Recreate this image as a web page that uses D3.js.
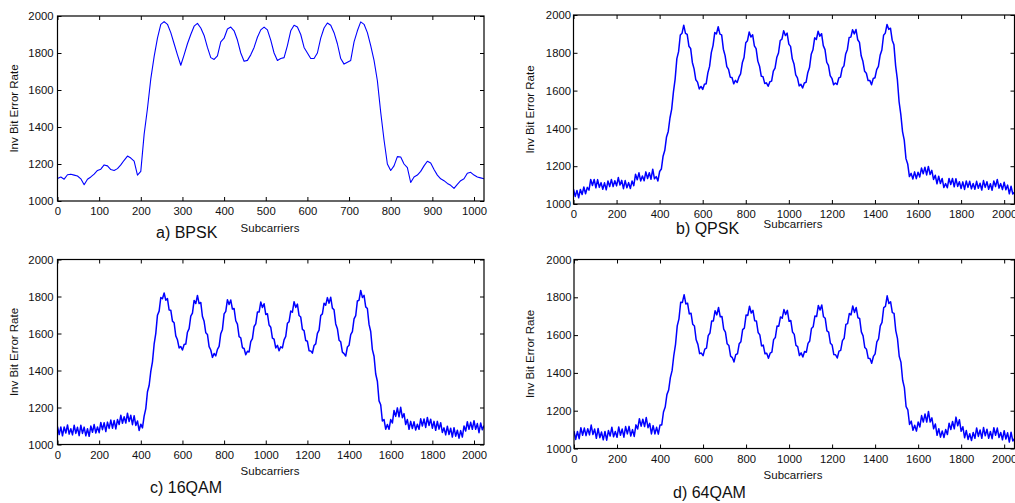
<!DOCTYPE html>
<html><head><meta charset="utf-8">
<script src="https://cdn.jsdelivr.net/npm/d3@7"></script>
<style>
body{margin:0;background:#fff}
svg{display:block;background:#fff}
text{font-family:"Liberation Sans",Arial,Helvetica,sans-serif;fill:#111}
</style>
</head><body><svg id="chart" width="1015" height="503"></svg>
<script>
// Subcarrier step between listed samples
const bpskStep = 8;
const qamStep = 8;

// a) BPSK — inverse bit error rate, sampled every 8 subcarriers (0..1024)
const bpsk = [1122,1130,1118,1142,1145,1140,1135,1120,1088,1118,1130,1145,1165,1172,1195,1190,
1170,1165,1175,1195,1220,1243,1232,1215,1140,1160,1360,1500,1660,1780,1880,1955,
1970,1955,1910,1850,1790,1734,1790,1850,1900,1945,1960,1935,1895,1830,1775,1765,
1785,1860,1880,1930,1940,1920,1870,1800,1755,1760,1790,1830,1885,1925,1940,1925,
1870,1800,1760,1770,1775,1840,1920,1950,1940,1900,1830,1800,1770,1770,1800,1880,
1935,1962,1950,1910,1850,1770,1740,1750,1760,1860,1920,1968,1955,1910,1840,1760,
1650,1480,1330,1200,1165,1190,1240,1238,1200,1180,1100,1130,1140,1160,1190,1215,
1205,1170,1140,1120,1110,1095,1085,1068,1090,1110,1120,1150,1155,1140,1130,1125,1120];

// b) QPSK — sampled every 8 subcarriers (0..2048)
const qpsk = [1078,1040,1072,1033,1077,1050,1090,1054,1088,1073,1130,1098,1130,1086,1129,1088,
1113,1078,1112,1075,1122,1092,1130,1092,1123,1096,1140,1100,1125,1081,1124,1086,
1113,1082,1122,1097,1157,1128,1165,1122,1148,1123,1170,1135,1165,1131,1184,1133,
1145,1122,1172,1185,1253,1284,1355,1384,1455,1502,1592,1661,1769,1806,1894,1903,
1946,1903,1897,1835,1823,1749,1715,1657,1645,1609,1622,1606,1634,1636,1694,1728,
1801,1838,1907,1900,1938,1899,1895,1819,1785,1727,1712,1671,1669,1636,1654,1643,
1671,1688,1747,1775,1853,1864,1910,1884,1895,1837,1822,1756,1729,1676,1674,1638,
1641,1623,1647,1650,1703,1719,1775,1799,1865,1872,1917,1891,1904,1846,1834,1768,
1741,1683,1667,1625,1633,1614,1640,1644,1695,1722,1792,1816,1879,1871,1914,1888,
1901,1838,1817,1750,1733,1679,1665,1631,1640,1632,1667,1671,1719,1731,1794,1818,
1881,1883,1922,1900,1923,1869,1855,1784,1755,1702,1692,1653,1654,1631,1664,1668,
1711,1728,1787,1815,1893,1904,1950,1924,1930,1867,1842,1731,1659,1541,1474,1383,
1338,1240,1212,1145,1162,1132,1170,1134,1168,1143,1190,1160,1195,1154,1199,1156,
1178,1130,1152,1107,1147,1108,1135,1087,1108,1086,1135,1103,1135,1091,1134,1093,
1118,1082,1117,1077,1122,1088,1120,1080,1108,1078,1120,1083,1110,1074,1124,1088,
1118,1078,1107,1073,1122,1092,1130,1084,1108,1076,1115,1075,1100,1054,1094,1053,1062];

// c) 16QAM — sampled every 8 subcarriers (0..2048)
const qam16 = [1097,1054,1095,1047,1095,1062,1106,1056,1085,1052,1104,1060,1093,1048,1104,1060,
1094,1047,1085,1044,1100,1066,1108,1062,1095,1064,1119,1080,1118,1070,1121,1087,
1132,1088,1130,1084,1135,1108,1158,1115,1150,1116,1169,1124,1158,1107,1156,1103,
1127,1076,1110,1090,1153,1194,1285,1319,1395,1447,1542,1601,1699,1721,1794,1788,
1819,1780,1789,1727,1726,1667,1658,1587,1566,1522,1530,1511,1541,1543,1607,1626,
1694,1710,1779,1762,1806,1762,1768,1692,1666,1604,1595,1529,1511,1471,1492,1479,
1514,1530,1599,1622,1706,1720,1783,1757,1781,1732,1735,1669,1651,1583,1577,1523,
1519,1485,1504,1500,1556,1572,1638,1652,1716,1716,1770,1741,1761,1703,1707,1646,
1634,1575,1569,1522,1536,1507,1528,1522,1566,1584,1655,1664,1721,1715,1772,1741,
1759,1697,1689,1622,1616,1562,1558,1507,1506,1494,1535,1544,1601,1618,1697,1706,
1764,1753,1794,1764,1796,1737,1728,1652,1626,1564,1555,1499,1491,1478,1527,1536,
1594,1610,1679,1697,1776,1780,1833,1795,1806,1744,1735,1649,1611,1513,1477,1381,
1342,1236,1215,1127,1135,1083,1108,1082,1135,1116,1184,1152,1198,1150,1201,1145,
1167,1108,1135,1082,1125,1086,1123,1078,1110,1082,1139,1100,1138,1092,1146,1103,
1137,1088,1125,1077,1125,1083,1118,1065,1090,1052,1099,1054,1088,1040,1091,1045,
1077,1034,1075,1040,1100,1073,1123,1082,1120,1082,1129,1082,1113,1064,1116,1080,1102];

// d) 64QAM — sampled every 8 subcarriers (0..2048)
const qam64 = [1092,1048,1090,1052,1110,1070,1108,1068,1105,1072,1124,1074,1103,1054,1106,1057,
1087,1046,1090,1044,1095,1066,1113,1062,1090,1059,1114,1070,1103,1060,1116,1077,
1117,1066,1100,1064,1125,1103,1158,1118,1155,1116,1164,1110,1133,1077,1121,1077,
1112,1076,1125,1125,1193,1219,1285,1309,1375,1412,1492,1551,1649,1686,1774,1773,
1814,1765,1769,1712,1716,1657,1648,1575,1551,1502,1505,1491,1526,1531,1597,1611,
1674,1675,1729,1707,1746,1697,1698,1632,1616,1554,1545,1489,1481,1458,1497,1501,
1554,1565,1629,1637,1706,1704,1753,1717,1731,1676,1675,1614,1601,1543,1547,1501,
1504,1477,1504,1510,1576,1587,1648,1647,1696,1689,1735,1709,1731,1673,1677,1616,
1604,1545,1539,1492,1506,1484,1513,1509,1556,1569,1635,1644,1701,1698,1757,1733,
1759,1697,1689,1622,1616,1557,1548,1497,1496,1479,1515,1519,1571,1583,1657,1661,
1714,1707,1754,1720,1746,1692,1688,1617,1596,1534,1525,1477,1476,1451,1487,1501,
1564,1580,1649,1667,1746,1752,1808,1767,1776,1719,1715,1624,1581,1488,1457,1361,
1322,1221,1205,1127,1145,1096,1123,1092,1140,1114,1174,1140,1183,1140,1196,1140,
1162,1104,1130,1070,1105,1060,1093,1058,1100,1074,1134,1100,1143,1104,1166,1120,
1152,1091,1115,1057,1095,1048,1078,1042,1085,1054,1109,1064,1098,1054,1111,1067,
1102,1054,1090,1052,1110,1070,1108,1058,1085,1046,1094,1050,1083,1034,1086,1040,1052];

const xTicksBpsk = [0,100,200,300,400,500,600,700,800,900,1000];
const xTicksQam = [0,200,400,600,800,1000,1200,1400,1600,1800,2000];
const yTicks = [1000,1200,1400,1600,1800,2000];
const captions = ["a) BPSK","b) QPSK","c) 16QAM","d) 64QAM"];
const xLabel = "Subcarriers";
const yLabel = "Inv Bit Error Rate";

const panels = [
  {values:bpsk, step:bpskStep, xMax:1024, xTicks:xTicksBpsk, box:[57.5,484,16,201], cap:[156,238], xl:[270,232], yl:[14,108.5], sw:1.1, pad:4},
  {values:qpsk, step:qamStep, xMax:2048, xTicks:xTicksQam, box:[573.5,1014.5,15,204], cap:[676,234], xl:[793,228], yl:[530,109.5], sw:1.5, pad:2.5},
  {values:qam16, step:qamStep, xMax:2048, xTicks:xTicksQam, box:[57.5,484,259.5,444.5], cap:[150,493], xl:[270,474.5], yl:[14,352], sw:1.5, pad:4},
  {values:qam64, step:qamStep, xMax:2048, xTicks:xTicksQam, box:[574,1014.5,259.5,448.5], cap:[673,498], xl:[793,478.5], yl:[530,354], sw:1.5, pad:2.5}
];

const svg = d3.select("#chart");

panels.forEach((p, i) => {
  const [x0, x1, y0, y1] = p.box;
  const x = d3.scaleLinear().domain([0, p.xMax]).range([x0, x1]);
  const y = d3.scaleLinear().domain([1000, 2000]).range([y1, y0]);
  const g = svg.append("g");

  const clipId = "clip" + i;
  svg.append("clipPath").attr("id", clipId).append("rect")
    .attr("x", x0).attr("y", y0).attr("width", x1 - x0).attr("height", y1 - y0);

  const line = d3.line().x((d, k) => x(k * p.step)).y(d => y(d));
  g.append("path").datum(p.values)
    .attr("clip-path", `url(#${clipId})`)
    .attr("fill", "none").attr("stroke", "#0000ff")
    .attr("stroke-width", p.sw).attr("stroke-linejoin", "round")
    .attr("d", line);

  const ax = g.append("g").attr("transform", `translate(0,${y1})`)
    .call(d3.axisBottom(x).tickValues(p.xTicks).tickSizeInner(-4).tickSizeOuter(0).tickPadding(6).tickFormat(d3.format("d")));
  const at = g.append("g").attr("transform", `translate(0,${y0})`)
    .call(d3.axisTop(x).tickValues(p.xTicks).tickSizeInner(-4).tickSizeOuter(0).tickFormat(""));
  const ay = g.append("g").attr("transform", `translate(${x0},0)`)
    .call(d3.axisLeft(y).tickValues(yTicks).tickSizeInner(-4).tickSizeOuter(0).tickPadding(p.pad).tickFormat(d3.format("d")));
  const ar = g.append("g").attr("transform", `translate(${x1},0)`)
    .call(d3.axisRight(y).tickValues(yTicks).tickSizeInner(-4).tickSizeOuter(0).tickFormat(""));

  [ax, at, ay, ar].forEach(a => {
    a.select(".domain").remove();
    a.selectAll("line").attr("stroke", "#000").attr("stroke-width", 1);
    a.selectAll("text").attr("font-family", "'Liberation Sans', Arial, sans-serif").attr("font-size", 11.3).attr("fill", "#111");
  });

  g.append("rect").attr("x", x0).attr("y", y0).attr("width", x1 - x0).attr("height", y1 - y0)
    .attr("fill", "none").attr("stroke", "#000").attr("stroke-width", 1.2);

  g.append("text").attr("x", p.xl[0]).attr("y", p.xl[1]).attr("text-anchor", "middle")
    .attr("font-size", 11.5).text(xLabel);
  g.append("text").attr("transform", `translate(${p.yl[0]},${p.yl[1]}) rotate(-90)`)
    .attr("text-anchor", "middle").attr("dy", "0.35em").attr("font-size", 11.5).text(yLabel);
  g.append("text").attr("x", p.cap[0]).attr("y", p.cap[1]).attr("font-size", 16).text(captions[i]);
});
</script>
</body></html>
